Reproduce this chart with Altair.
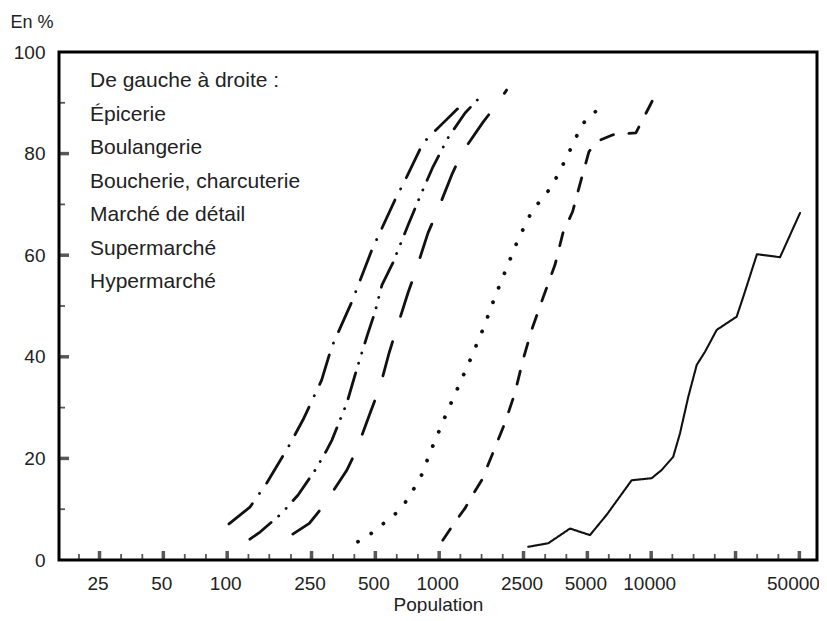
import altair as alt
import pandas as pd

FONT = "Liberation Sans"
TEXT = "#222222"
INK = "#111111"

series_names = ["Épicerie", "Boulangerie", "Boucherie, charcuterie",
                "Marché de détail", "Supermarché", "Hypermarché"]
legend_title = "De gauche à droite :"

epicerie_pop = [102, 128, 154, 194, 228, 279, 311, 387, 481, 619, 703, 839, 1042, 1277]
epicerie_pct = [7.1, 10.4, 15.2, 22.2, 27.6, 35.4, 41.9, 50.8, 61.0, 70.9, 75.4, 82.1, 86.0, 89.6]

boulangerie_pop = [128, 143, 181, 216, 260, 292, 312, 367, 410, 462, 498, 537, 605, 713,
                   811, 935, 1101, 1325, 1557]
boulangerie_pct = [4.1, 5.5, 9.2, 12.8, 17.7, 21.3, 23.6, 30.9, 37.8, 44.7, 48.8, 54.1, 58.5,
                   65.9, 71.5, 77.4, 83.1, 88.0, 91.1]

boucherie_pop = [204, 244, 286, 366, 408, 472, 526, 580, 632, 713, 778, 886, 977, 1146,
                 1277, 1611, 1894, 2080]
boucherie_pct = [5.1, 7.2, 10.8, 17.6, 21.7, 28.9, 34.1, 40.7, 45.7, 52.6, 57.1, 64.4, 68.5,
                 75.8, 80.1, 86.2, 90.0, 92.5]

marche_pop = [414, 481, 543, 630, 703, 769, 836, 886, 945, 1084, 1240, 1428, 1627, 1833,
              2080, 2353, 2741, 3395, 3955, 4565, 4978, 5795]
marche_pct = [3.6, 5.3, 7.1, 9.3, 11.7, 14.4, 17.1, 20.1, 23.0, 28.9, 34.4, 40.2, 45.9, 51.8,
              57.5, 63.0, 68.7, 73.5, 78.9, 84.4, 87.1, 89.0]

supermarche_pop = [1040, 1189, 1325, 1424, 1587, 1793, 2044, 2278, 2485, 2731, 3088, 3518,
                   3837, 4263, 4650, 5088, 5611, 6605, 8470, 10190]
supermarche_pct = [3.9, 7.5, 10.2, 12.5, 15.7, 21.1, 27.0, 32.9, 39.4, 45.3, 51.6, 58.1,
                   64.4, 68.6, 74.5, 80.4, 82.5, 83.7, 84.1, 90.6]

hypermarche_pop = [2632, 3271, 4143, 5143, 6166, 8092, 10050, 11200, 12700, 13670, 14960,
                   16400, 17950, 20380, 25310, 27190, 31550, 40530, 50350]
hypermarche_pct = [2.6, 3.3, 6.2, 4.9, 8.9, 15.7, 16.1, 17.7, 20.3, 24.9, 32.1, 38.4, 41.0,
                   45.3, 47.9, 51.8, 60.2, 59.6, 68.3]

x_label_values = [25, 50, 100, 250, 500, 1000, 2500, 5000, 10000, 50000]
x_major_ticks = [25, 50, 100, 250, 500, 1000, 2500, 5000, 10000, 25000, 50000]
x_minor_ticks = [20, 31.6, 39.8, 63.1, 79.4, 126, 158, 200, 316, 398, 631, 794, 1259, 1585,
                 1995, 3162, 3981, 6310, 7943, 12589, 15849, 19953, 31623, 39811]
y_label_values = [0, 20, 40, 60, 80, 100]
y_major_ticks = [20, 40, 60, 80]
y_minor_ticks = [10, 30, 50, 70, 90]

all_pops = [epicerie_pop, boulangerie_pop, boucherie_pop, marche_pop, supermarche_pop, hypermarche_pop]
all_pcts = [epicerie_pct, boulangerie_pct, boucherie_pct, marche_pct, supermarche_pct, hypermarche_pct]

rows = []
for name, pops, pcts in zip(series_names, all_pops, all_pcts):
    for p, v in zip(pops, pcts):
        rows.append({"series": name, "pop": p, "pct": v})
df = pd.DataFrame(rows)

legend_lines = [legend_title] + series_names
legend_df = pd.DataFrame({"row": list(range(len(legend_lines))), "label": legend_lines})

W, H = 758, 508

x_scale = alt.Scale(type="log", domain=[16.1, 60560], nice=False)
y_scale = alt.Scale(domain=[0, 100], nice=False, zero=False)

x_axis = alt.Axis(values=x_label_values, format="d", ticks=False, tickSize=0, domain=False,
                  grid=False, labelFontSize=19, labelFont=FONT, labelColor=TEXT,
                  labelPadding=14, labelOffset=-2, labelFlush=20, labelFlushOffset=22,
                  title="Population", titleFont=FONT,
                  titleFontSize=19, titleFontWeight="normal", titleColor=TEXT, titlePadding=2)
y_axis = alt.Axis(values=y_label_values, ticks=False, tickSize=0, domain=False, grid=False,
                  labelFontSize=19, labelFont=FONT, labelColor=TEXT, labelPadding=14,
                  title="En %", titleAngle=0, titleX=-49, titleY=-30, titleAlign="left",
                  titleBaseline="middle", titleFont=FONT, titleFontSize=18,
                  titleFontWeight="normal", titleColor=TEXT)

dashes = [[31, 12.5, 0.1, 12.5],
          [27, 10, 0.1, 10.5, 0.1, 10.5],
          [35.5, 26.5],
          [0.1, 15.5],
          [13.5, 15.5],
          [1, 0]]
dash_scale = alt.Scale(domain=series_names, range=dashes)


def line_layer(names, width):
    return alt.Chart(df).transform_filter(
        alt.FieldOneOfPredicate(field="series", oneOf=names)
    ).mark_line(color=INK, strokeCap="round", strokeJoin="round", strokeWidth=width).encode(
        x=alt.X("pop:Q", scale=x_scale, axis=x_axis),
        y=alt.Y("pct:Q", scale=y_scale, axis=y_axis),
        strokeDash=alt.StrokeDash("series:N", scale=dash_scale, legend=None),
    )


lines_main = line_layer(["Épicerie", "Boulangerie", "Boucherie, charcuterie", "Supermarché"], 2.8)
lines_dots = line_layer(["Marché de détail"], 3.8)
lines_solid = line_layer(["Hypermarché"], 2.1)

xmaj = alt.Chart(pd.DataFrame({"v": x_major_ticks})).mark_tick(
    color=INK, thickness=3.5, size=9).encode(
    x=alt.X("v:Q", scale=x_scale, axis=x_axis), y=alt.value(H - 4.5))
xmin = alt.Chart(pd.DataFrame({"v": x_minor_ticks})).mark_tick(
    color=INK, thickness=1.8, size=6).encode(
    x=alt.X("v:Q", scale=x_scale, axis=x_axis), y=alt.value(H - 3))
ymaj = alt.Chart(pd.DataFrame({"v": y_major_ticks})).mark_tick(
    color=INK, thickness=3.5, size=10).encode(
    y=alt.Y("v:Q", scale=y_scale, axis=y_axis), x=alt.value(5))
ymin = alt.Chart(pd.DataFrame({"v": y_minor_ticks})).mark_tick(
    color=INK, thickness=1.8, size=6).encode(
    y=alt.Y("v:Q", scale=y_scale, axis=y_axis), x=alt.value(3))

plot = alt.layer(lines_main, lines_dots, lines_solid, xmaj, xmin, ymaj, ymin)

legend_text = alt.Chart(legend_df).mark_text(
    align="left", baseline="middle", font=FONT, fontSize=21, color=TEXT).encode(
    text="label:N",
    y=alt.Y("row:O", scale=alt.Scale(type="point", range=[29, 230], padding=0), axis=None),
    x=alt.value(31),
)

chart = alt.layer(plot, legend_text).resolve_scale(y="independent").properties(
    width=W, height=H,
    autosize=alt.AutoSizeParams(type="none"),
    padding={"left": 51, "top": 44, "right": 2, "bottom": 53},
).configure_view(stroke="#000000", strokeWidth=3)

chart.save("out.html", embed_options={"renderer": "svg", "actions": False})
